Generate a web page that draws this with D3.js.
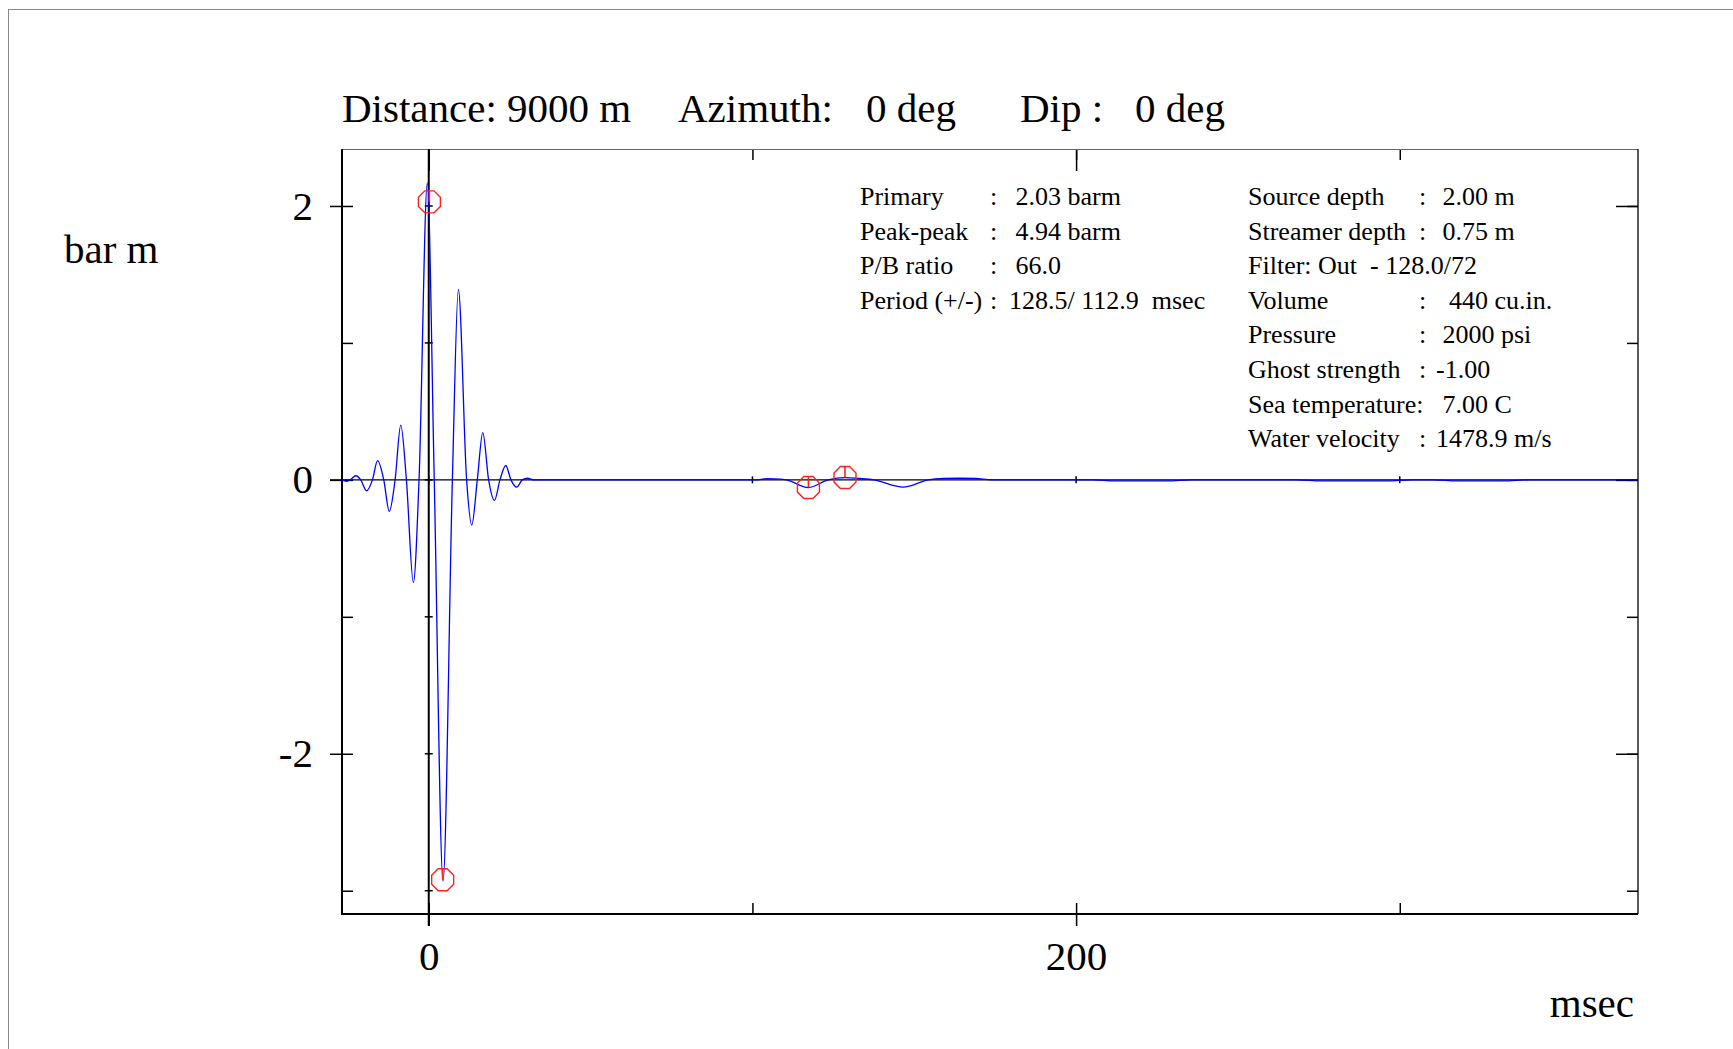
<!DOCTYPE html>
<html>
<head>
  <meta charset="utf-8">
  <title>Source signature</title>
  <script src="https://d3js.org/d3.v7.min.js"></script>
  <style>
    body { margin: 0; background: #fff; }
    text { font-family: "Liberation Serif", "Times New Roman", serif; fill: #000; }
    .info text { font-size: 26px; white-space: pre; }
  </style>
</head>
<body>
<svg id="chart"></svg>
<script>
// trace: time (msec) and amplitude (bar m)
const times = [-26.8, -25.3, -24.3, -22.5, -21.0, -19.2, -17.4, -15.8, -13.9, -12.2, -10.4, -8.65, -6.9, -4.75, -3.0,
  -0.43, 1.7, 4.42, 7.3, 9.15, 11.7, 13.3, 15.0, 16.7, 18.5, 20.3, 22.0, 23.8, 25.4, 27.2, 28.9, 30.5, 32.5,
  60, 101, 104.5, 108.6, 110.5, 117.3, 123.4, 128.6, 133, 137.5, 146.6, 154.3, 159, 164, 169, 174,
  205, 212, 228, 236, 268, 276, 296, 304, 310, 318, 332, 340, 373.6];
const amps = [0, -0.01, 0, 0.03, 0, -0.08, 0, 0.14, 0, -0.23, 0, 0.40, 0, -0.75, 0,
  2.17, 0, -2.93, 0, 1.39, 0, -0.33, 0, 0.345, 0, -0.15, 0, 0.105, 0, -0.053, 0, 0.012, 0,
  0, 0, 0.008, 0.006, 0, -0.056, 0, 0.017, 0.01, 0, -0.053, 0, 0.01, 0.012, 0.01, 0,
  0, -0.008, -0.008, 0, 0, -0.008, -0.008, 0, 0, -0.008, -0.008, 0, 0];

// picked extrema (octagon markers)
const markTimes = [0.2, 4.3, 117.3, 128.6];
const markAmps = [2.03, -2.92, -0.056, 0.017];

// axes
const xMajor = [0, 200];
const xTicks = [0, 100, 200, 300];
const yMajor = [-2, 0, 2];
const yTicks = [-3, -2, -1, 0, 1, 2];

const titleParts = ["Distance: 9000 m", "Azimuth:", "0 deg", "Dip :", "0 deg"];

const infoLeftLabels = ["Primary", "Peak-peak", "P/B ratio", "Period (+/-)"];
const infoLeftSeps = [":", ":", ":", ":"];
const infoLeftValues = [" 2.03 barm", " 4.94 barm", " 66.0", "128.5/ 112.9  msec"];
const infoRightLabels = ["Source depth", "Streamer depth", "Filter: Out  - 128.0/72", "Volume", "Pressure",
  "Ghost strength", "Sea temperature:", "Water velocity"];
const infoRightSeps = [":", ":", "", ":", ":", ":", "", ":"];
const infoRightValues = [" 2.00 m", " 0.75 m", "", "  440 cu.in.", " 2000 psi", "-1.00", " 7.00 C", "1478.9 m/s"];

const W = 1733, H = 1049;
const pLeft = 342, pRight = 1638, pTop = 149, pBottom = 914;

const svg = d3.select("#chart").attr("width", W).attr("height", H);

// page border
svg.append("rect").attr("x", 8.5).attr("y", 9.5).attr("width", 2000).attr("height", 2000)
  .attr("fill", "none").attr("stroke", "#8a8a8a").attr("stroke-width", 1);

const x = d3.scaleLinear().domain([-26.8, 373.6]).range([pLeft, pRight]);
const y = d3.scaleLinear().domain([-3.17, 2.416]).range([pBottom, pTop]);

const plain = d => String(d);   // ascii hyphen, like the original

function styleAxis(g, size) {
  g.select(".domain").remove();
  g.selectAll("line").attr("stroke", "#000").attr("stroke-width", 1.5);
  g.selectAll("text").style("font-size", size + "px").style("font-family", "Liberation Serif");
}

// left axis: labelled majors crossing the frame, minors inside
svg.append("g").attr("transform", `translate(${pLeft},0)`)
  .call(d3.axisLeft(y).tickValues(yMajor).tickSize(12).tickPadding(17).tickFormat(plain))
  .call(g => styleAxis(g, 41));
svg.append("g").attr("transform", `translate(${pLeft},0)`)
  .call(d3.axisLeft(y).tickValues(yTicks).tickSize(-11).tickFormat(""))
  .call(g => styleAxis(g, 0));

// right axis
svg.append("g").attr("transform", `translate(${pRight},0)`)
  .call(d3.axisRight(y).tickValues(yTicks).tickSize(-11).tickFormat(""))
  .call(g => styleAxis(g, 0));
svg.append("g").attr("transform", `translate(${pRight},0)`)
  .call(d3.axisRight(y).tickValues(yMajor).tickSize(-22).tickFormat(""))
  .call(g => styleAxis(g, 0));

// bottom axis
svg.append("g").attr("transform", `translate(0,${pBottom})`)
  .call(d3.axisBottom(x).tickValues(xMajor).tickSize(12).tickPadding(15).tickFormat(plain))
  .call(g => styleAxis(g, 41));
svg.append("g").attr("transform", `translate(0,${pBottom})`)
  .call(d3.axisBottom(x).tickValues(xTicks).tickSize(-11).tickFormat(""))
  .call(g => styleAxis(g, 0));

// top axis
svg.append("g").attr("transform", `translate(0,${pTop})`)
  .call(d3.axisTop(x).tickValues(xTicks).tickSize(-11).tickFormat(""))
  .call(g => styleAxis(g, 0));
svg.append("g").attr("transform", `translate(0,${pTop})`)
  .call(d3.axisTop(x).tickValues(xMajor).tickSize(-22).tickFormat(""))
  .call(g => styleAxis(g, 0));

// frame
svg.append("line").attr("x1", pLeft).attr("x2", pRight).attr("y1", pTop + 0.5).attr("y2", pTop + 0.5)
  .attr("stroke", "#666").attr("stroke-width", 1.2);
svg.append("line").attr("x1", pLeft).attr("x2", pRight).attr("y1", pBottom).attr("y2", pBottom)
  .attr("stroke", "#000").attr("stroke-width", 2);
svg.append("line").attr("x1", pLeft).attr("x2", pLeft).attr("y1", pTop).attr("y2", pBottom + 1)
  .attr("stroke", "#000").attr("stroke-width", 2);
svg.append("line").attr("x1", pRight).attr("x2", pRight).attr("y1", pTop).attr("y2", pBottom)
  .attr("stroke", "#000").attr("stroke-width", 1.3);

// zero lines with their little cross ticks
svg.append("line").attr("x1", pLeft - 12).attr("x2", pRight).attr("y1", y(0)).attr("y2", y(0))
  .attr("stroke", "#000").attr("stroke-width", 1.3);
svg.append("line").attr("x1", x(0)).attr("x2", x(0)).attr("y1", pTop).attr("y2", pBottom + 12)
  .attr("stroke", "#000").attr("stroke-width", 2);
svg.append("g").selectAll("line").data(yTicks).join("line")
  .attr("x1", x(0) - 4).attr("x2", x(0) + 4).attr("y1", d => y(d)).attr("y2", d => y(d))
  .attr("stroke", "#000").attr("stroke-width", 1.5);
svg.append("g").selectAll("line").data(xTicks).join("line")
  .attr("x1", d => x(d)).attr("x2", d => x(d)).attr("y1", y(0) - 3.5).attr("y2", y(0) + 3.5)
  .attr("stroke", "#000").attr("stroke-width", 1.5);

// trace
const trace = times.map((t, i) => [t, amps[i]]);
svg.append("path").datum(trace)
  .attr("fill", "none").attr("stroke", "#0000ff").attr("stroke-width", 1.3)
  .attr("d", d3.line().x(d => x(d[0])).y(d => y(d[1])).curve(d3.curveMonotoneX));

// markers: octagon with a stem from the centre up to the flat top
const apo = 11, R = apo / Math.cos(Math.PI / 8);
const oct = d3.range(8).map(k => {
  const a = Math.PI / 8 + k * Math.PI / 4;
  return [R * Math.cos(a), R * Math.sin(a)];
});
const marks = svg.append("g").selectAll("g").data(markTimes).join("g")
  .attr("transform", (d, i) => `translate(${x(d)},${y(markAmps[i])})`);
marks.append("polygon").attr("points", oct.map(p => p.join(",")).join(" "))
  .attr("fill", "none").attr("stroke", "#ff2020").attr("stroke-width", 1.4);
marks.append("line").attr("x1", 0).attr("x2", 0).attr("y1", 0).attr("y2", -apo)
  .attr("stroke", "#ff2020").attr("stroke-width", 1.6);

// title
const titleX = [342, 678, 866, 1020, 1135];
svg.append("g").selectAll("text").data(titleParts).join("text")
  .attr("x", (d, i) => titleX[i]).attr("y", 122)
  .style("font-size", "41px").text(d => d);

svg.append("text").attr("x", 64).attr("y", 263).style("font-size", "41px").text("bar m");
svg.append("text").attr("x", 1634).attr("y", 1017).attr("text-anchor", "end")
  .style("font-size", "41px").text("msec");

// info block
const info = svg.append("g").attr("class", "info");
const rowY = i => 205 + i * 34.6;
infoLeftLabels.forEach((d, i) => {
  info.append("text").attr("x", 860).attr("y", rowY(i)).text(d);
  info.append("text").attr("x", 990).attr("y", rowY(i)).text(infoLeftSeps[i]);
  info.append("text").attr("x", 1009).attr("y", rowY(i)).text(infoLeftValues[i]);
});
infoRightLabels.forEach((d, i) => {
  info.append("text").attr("x", 1248).attr("y", rowY(i)).text(d);
  info.append("text").attr("x", 1419).attr("y", rowY(i)).text(infoRightSeps[i]);
  info.append("text").attr("x", 1436).attr("y", rowY(i)).text(infoRightValues[i]);
});
</script>
</body>
</html>
